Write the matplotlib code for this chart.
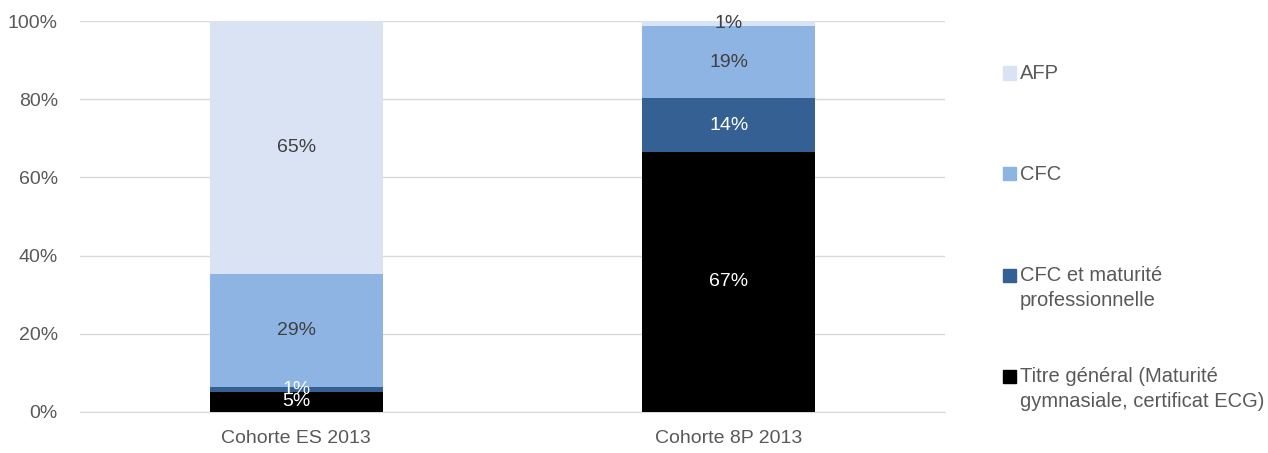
import numpy as np
import matplotlib.pyplot as plt
from matplotlib.patches import Rectangle

plt.rcParams['font.family'] = ['Liberation Sans', 'DejaVu Sans']

cohorts = ['Cohorte ES 2013', 'Cohorte 8P 2013']
series = ['Titre général (Maturité\ngymnasiale, certificat ECG)',
          'CFC et maturité\nprofessionnelle', 'CFC', 'AFP']
titre = [5.2, 66.6]
cfc_mp = [1.2, 13.6]
cfc = [28.9, 18.6]
afp = [64.7, 1.2]

colors = ['#000000', '#356093', '#8eb4e3', '#dae3f3']
label_colors = ['white', 'white', '#404040', '#404040']
grey = '#595959'

W, H = 1268, 453
fig = plt.figure(figsize=(W / 100, H / 100), dpi=100)
ax = fig.add_axes([80 / W, 1 - 412 / H, 865 / W, 391 / H])

x = np.arange(len(cohorts))
bottom = np.zeros(len(cohorts))
for vals, name, col, lc in zip([titre, cfc_mp, cfc, afp], series, colors, label_colors):
	vals = np.array(vals)
	ax.bar(x, vals, 0.40, bottom=bottom, color=col, label=name, zorder=3)
	for xi, v, b in zip(x, vals, bottom):
		ax.text(xi, b + v / 2, f'{v:.0f}%', ha='center', va='center', color=lc, fontsize=14, zorder=4)
	bottom += vals

ax.set_xlim(-0.5, 1.5)
ax.set_ylim(0, 100)
ax.set_yticks(np.arange(0, 101, 20))
ax.set_yticklabels([f'{t}%' for t in range(0, 101, 20)])
ax.set_xticks(x)
ax.set_xticklabels(cohorts)
ax.grid(axis='y', color='#d9d9d9', linewidth=1, zorder=0)
for s in ['top', 'right', 'left']:
	ax.spines[s].set_visible(False)
ax.spines['bottom'].set_color('#d9d9d9')
ax.tick_params(axis='both', length=0, labelsize=14, colors=grey)
ax.tick_params(axis='y', pad=16)
ax.tick_params(axis='x', pad=13)

# legend drawn by hand so the marker sits on the first text line, like the original
for i, (name, col) in enumerate(zip(series[::-1], colors[::-1])):
	yc = 73 + i * 101
	fig.patches.append(Rectangle((1003 / W, 1 - (yc + 6.5) / H), 13 / W, 13 / H,
	                             transform=fig.transFigure, color=col))
	fig.text(1020 / W, 1 - (yc - 9) / H, name, ha='left', va='top', fontsize=14.5,
	         color=grey, linespacing=1.42)

fig.savefig('out.png', dpi=100)
